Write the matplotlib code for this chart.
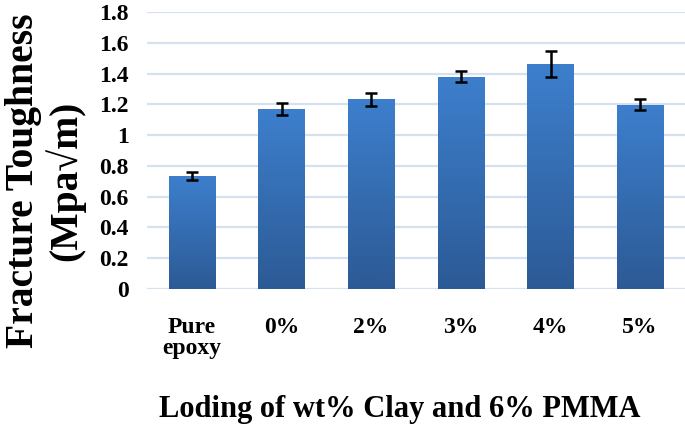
import matplotlib
matplotlib.use("Agg")
import matplotlib.pyplot as plt
import numpy as np
from matplotlib.colors import LinearSegmentedColormap

categories = ["Pure\nepoxy", "0%", "2%", "3%", "4%", "5%"]
values = [0.735, 1.168, 1.232, 1.378, 1.462, 1.198]
errors = [0.028, 0.038, 0.042, 0.036, 0.085, 0.037]
yticks = [0, 0.2, 0.4, 0.6, 0.8, 1, 1.2, 1.4, 1.6, 1.8]
ytick_labels = ["0", "0.2", "0.4", "0.6", "0.8", "1", "1.2", "1.4", "1.6", "1.8"]

FONT = "Liberation Serif"

fig = plt.figure(figsize=(6.85, 4.29), dpi=100)
ax = fig.add_axes([0.2146, 0.3263, 0.7854, 0.6457])

x = np.arange(len(categories))
bars = ax.bar(x, values, width=0.52, color="none", edgecolor="none", zorder=2)

cmap = LinearSegmentedColormap.from_list("g", ["#2c5a95", "#3d7fcd"])
grad = np.linspace(0, 1, 256).reshape(-1, 1)
for b in bars:
    x0, y0 = b.get_x(), b.get_y()
    w, h = b.get_width(), b.get_height()
    im = ax.imshow(grad, cmap=cmap, origin="lower", aspect="auto",
                   extent=[x0, x0 + w, y0, y0 + h], zorder=2,
                   vmin=0, vmax=1)
    im.set_clip_path(b)

ax.errorbar(x, values, yerr=errors, fmt="none", ecolor="black",
            elinewidth=1.8, capsize=4, capthick=1.8, zorder=3)

ax.set_xlim(-0.5, len(categories) - 0.5)
ax.set_ylim(0, 1.8)
ax.set_yticks(yticks)
ax.set_yticklabels(ytick_labels, fontfamily=FONT, fontweight="bold", fontsize=17)
ax.set_xticks(x)
ax.set_xticklabels(categories, fontfamily=FONT, fontweight="bold", fontsize=17,
                   linespacing=1.0, va="top")
ax.tick_params(axis="both", length=0)
ax.tick_params(axis="y", pad=13)
ax.tick_params(axis="x", pad=20)

for s in ax.spines.values():
    s.set_visible(False)
ax.yaxis.grid(True, color="#d6e1f0", linewidth=1.6, zorder=0)
ax.set_axisbelow(True)

fig.text(0.583, 0.046, "Loding of wt% Clay and 6% PMMA", ha="center", va="center",
         fontfamily=FONT, fontweight="bold", fontsize=22)
fig.text(0.066, 0.578, "Fracture Toughness\n(Mpa\u221am)", ha="center", va="center",
         rotation=90, fontfamily=[FONT, "DejaVu Serif"], fontweight="bold",
         fontsize=28.5, multialignment="center", linespacing=1.1)

fig.savefig("out.png", dpi=100)
